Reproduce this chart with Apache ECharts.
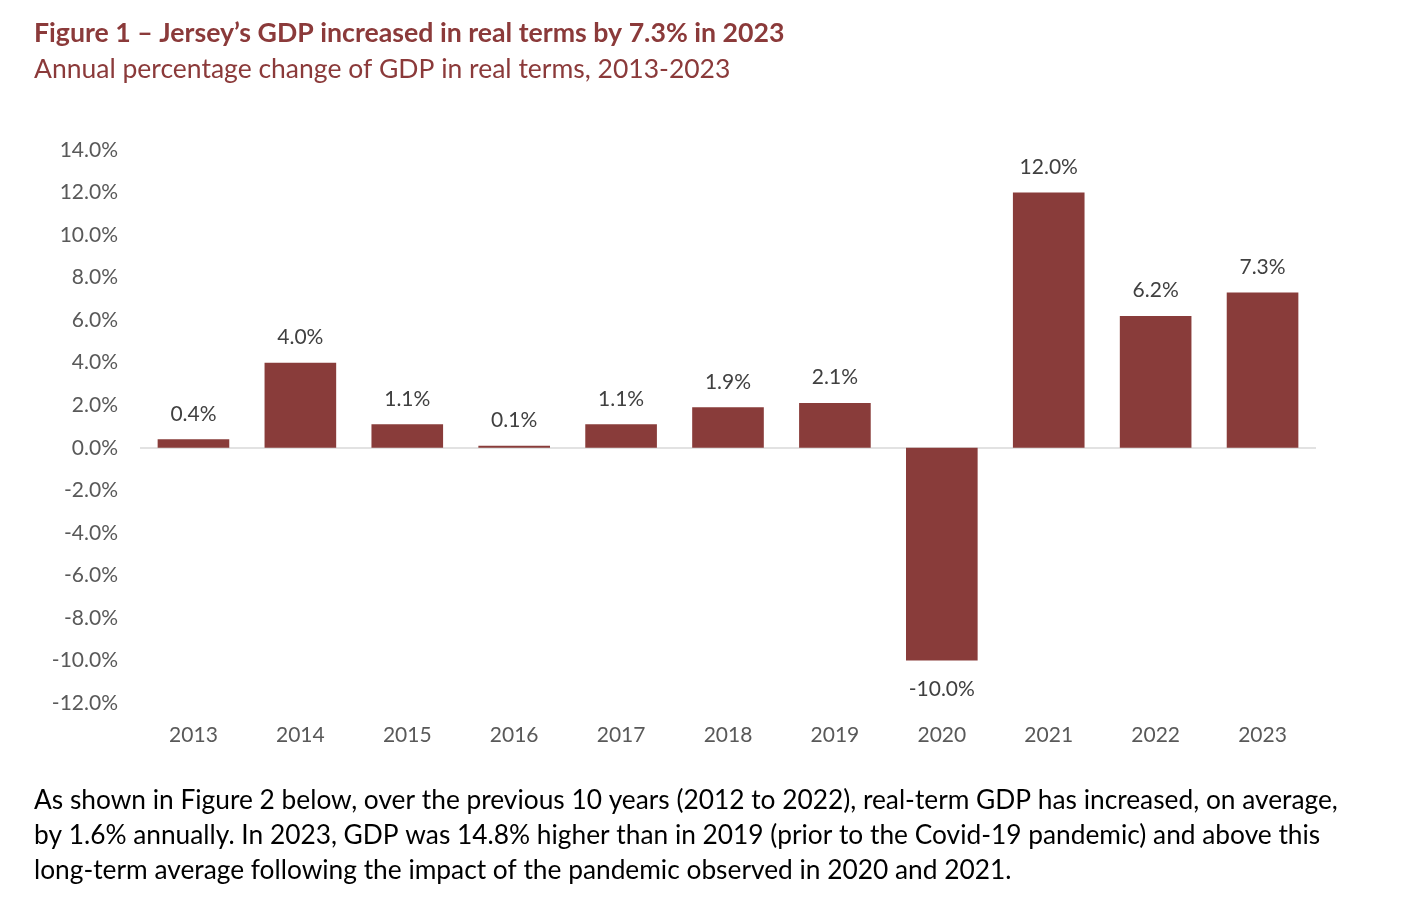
<!DOCTYPE html>
<html><head><meta charset="utf-8">
<script src="https://cdn.jsdelivr.net/npm/echarts@6/dist/echarts.min.js"></script>
<style>html,body{margin:0;padding:0;background:#fff;}#c{width:1426px;height:906px;}</style>
</head><body><div id="c"></div>
<script>
const categories = ['2013','2014','2015','2016','2017','2018','2019','2020','2021','2022','2023'];
const gdpChange = [0.4, 4.0, 1.1, 0.1, 1.1, 1.9, 2.1, -10.0, 12.0, 6.2, 7.3];
const yTicks = {min: -12, max: 14, interval: 2};
const titleText = 'Figure 1 – Jersey’s GDP increased in real terms by 7.3% in 2023';
const subtitleText = 'Annual percentage change of GDP in real terms, 2013-2023';
const paragraphLines = [
  'As shown in Figure 2 below, over the previous 10 years (2012 to 2022), real-term GDP has increased, on average,',
  'by 1.6% annually. In 2023, GDP was 14.8% higher than in 2019 (prior to the Covid-19 pandemic) and above this',
  'long-term average following the impact of the pandemic observed in 2020 and 2021.'
];
const FONT = 'Lato, "Open Sans", sans-serif';
const RED = '#893c3a';
const chart = echarts.init(document.getElementById('c'));
chart.setOption({
  animation: false,
  backgroundColor: '#fff',
  title: [{
    text: titleText, left: 29, top: 15,
    textStyle: {fontFamily: FONT, fontSize: 26.7, fontWeight: 'bold', color: '#8b3a3a'}
  }, {
    text: subtitleText, left: 29, top: 51,
    textStyle: {fontFamily: FONT, fontSize: 26.5, fontWeight: 'normal', color: '#8b3a3a'}
  }],
  grid: {left: 140, right: 110, top: 150, bottom: 203, containLabel: false, outerBoundsMode: 'none'},
  xAxis: {
    type: 'category', data: categories,
    axisLine: {show: false, onZero: false}, axisTick: {show: false},
    axisLabel: {fontFamily: FONT, fontSize: 21, color: '#595959', margin: 22}
  },
  yAxis: {
    type: 'value', min: yTicks.min, max: yTicks.max, interval: yTicks.interval,
    splitLine: {show: false}, axisLine: {show: false}, axisTick: {show: false},
    axisLabel: {fontFamily: FONT, fontSize: 21, color: '#595959', margin: 22,
      formatter: v => v.toFixed(1) + '%'}
  },
  series: [{
    type: 'bar', data: gdpChange.map(v => ({
      value: v,
      label: v < 0 ? {position: 'bottom', distance: 18} : {position: 'top', distance: 15}
    })),
    barCategoryGap: '33%',
    itemStyle: {color: RED},
    label: {show: true, fontFamily: FONT, fontSize: 21, color: '#404040',
      formatter: p => p.value.toFixed(1) + '%'},
    markLine: {
      silent: true, symbol: 'none', label: {show: false},
      lineStyle: {color: '#d9d9d9', width: 1.5, type: 'solid'},
      data: [{yAxis: 0}], z: 1
    }
  }],
  graphic: paragraphLines.map((t, i) => ({
    type: 'text', left: 34, top: 788 + i * 35,
    style: {text: t, fontFamily: FONT, fontSize: 26.3, fill: '#000'}
  }))
});
</script></body></html>
